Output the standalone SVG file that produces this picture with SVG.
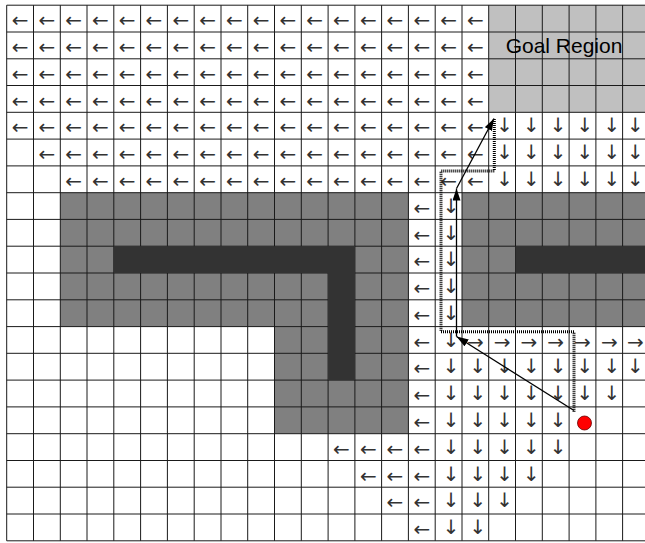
<svg xmlns="http://www.w3.org/2000/svg" width="645" height="543" viewBox="0 0 645 543">
<style>
.mid{fill:#808080}
.dark{fill:#333333}
.goal{fill:#c0c0c0}
.grid line{stroke:#1a1a1a;stroke-width:1}
.arr{font-family:"DejaVu Sans",sans-serif;font-size:20px;fill:#333;text-anchor:middle}
.lbl{font-family:"Liberation Sans",Arial,sans-serif;font-size:21px;fill:#000;text-anchor:middle}
.dotted{fill:none;stroke:#000;stroke-width:3;stroke-dasharray:1 1}
.solid{fill:none;stroke:#000;stroke-width:1.3}
</style>
<defs>
<marker id="ah" viewBox="0 0 12 8" refX="12" refY="4" markerWidth="12" markerHeight="8" markerUnits="userSpaceOnUse" orient="auto">
<path d="M0,0 L12,4 L0,8 Z" fill="#000"/>
</marker>
</defs>
<rect width="645" height="543" fill="#fff"/>
<g id="regions">
<rect id="goal-region" class="goal" x="488.7" y="5.2" width="160" height="107.1"/>
<rect class="mid" x="60.3" y="192.7" width="348.1" height="133.9"/>
<rect class="mid" x="274.5" y="326.6" width="133.9" height="107.1"/>
<rect class="mid" x="462" y="192.7" width="190" height="133.9"/>
</g>
<g id="grid" class="grid">
<line x1="6.7" y1="5.2" x2="6.7" y2="540.8"/>
<line x1="33.5" y1="5.2" x2="33.5" y2="540.8"/>
<line x1="60.3" y1="5.2" x2="60.3" y2="540.8"/>
<line x1="87" y1="5.2" x2="87" y2="540.8"/>
<line x1="113.8" y1="5.2" x2="113.8" y2="540.8"/>
<line x1="140.6" y1="5.2" x2="140.6" y2="540.8"/>
<line x1="167.4" y1="5.2" x2="167.4" y2="540.8"/>
<line x1="194.2" y1="5.2" x2="194.2" y2="540.8"/>
<line x1="221" y1="5.2" x2="221" y2="540.8"/>
<line x1="247.7" y1="5.2" x2="247.7" y2="540.8"/>
<line x1="274.5" y1="5.2" x2="274.5" y2="540.8"/>
<line x1="301.3" y1="5.2" x2="301.3" y2="540.8"/>
<line x1="328.1" y1="5.2" x2="328.1" y2="540.8"/>
<line x1="354.9" y1="5.2" x2="354.9" y2="540.8"/>
<line x1="381.6" y1="5.2" x2="381.6" y2="540.8"/>
<line x1="408.4" y1="5.2" x2="408.4" y2="540.8"/>
<line x1="435.2" y1="5.2" x2="435.2" y2="540.8"/>
<line x1="462" y1="5.2" x2="462" y2="540.8"/>
<line x1="488.7" y1="5.2" x2="488.7" y2="540.8"/>
<line x1="515.5" y1="5.2" x2="515.5" y2="540.8"/>
<line x1="542.3" y1="5.2" x2="542.3" y2="540.8"/>
<line x1="569.1" y1="5.2" x2="569.1" y2="540.8"/>
<line x1="595.9" y1="5.2" x2="595.9" y2="540.8"/>
<line x1="622.6" y1="5.2" x2="622.6" y2="540.8"/>
<line x1="6.7" y1="5.2" x2="645" y2="5.2"/>
<line x1="6.7" y1="32" x2="645" y2="32"/>
<line x1="6.7" y1="58.8" x2="645" y2="58.8"/>
<line x1="6.7" y1="85.5" x2="645" y2="85.5"/>
<line x1="6.7" y1="112.3" x2="645" y2="112.3"/>
<line x1="6.7" y1="139.1" x2="645" y2="139.1"/>
<line x1="6.7" y1="165.9" x2="645" y2="165.9"/>
<line x1="6.7" y1="192.7" x2="645" y2="192.7"/>
<line x1="6.7" y1="219.4" x2="645" y2="219.4"/>
<line x1="6.7" y1="246.2" x2="645" y2="246.2"/>
<line x1="6.7" y1="273" x2="645" y2="273"/>
<line x1="6.7" y1="299.8" x2="645" y2="299.8"/>
<line x1="6.7" y1="326.6" x2="645" y2="326.6"/>
<line x1="6.7" y1="353.3" x2="645" y2="353.3"/>
<line x1="6.7" y1="380.1" x2="645" y2="380.1"/>
<line x1="6.7" y1="406.9" x2="645" y2="406.9"/>
<line x1="6.7" y1="433.7" x2="645" y2="433.7"/>
<line x1="6.7" y1="460.5" x2="645" y2="460.5"/>
<line x1="6.7" y1="487.2" x2="645" y2="487.2"/>
<line x1="6.7" y1="514" x2="645" y2="514"/>
<line x1="6.7" y1="540.8" x2="645" y2="540.8"/>
</g>
<g id="obstacles">
<rect class="dark" x="113.8" y="246.2" width="241.1" height="26.8"/>
<rect class="dark" x="328.1" y="246.2" width="26.8" height="133.9"/>
<rect class="dark" x="515.5" y="246.2" width="140" height="26.8"/>
</g>
<g id="policy-arrows" class="arr">
<text x="20.1 46.9 73.7 100.4 127.2 154 180.8 207.6 234.4 261.1 287.9 314.7 341.5 368.3 395 421.8 448.6 475.4" y="27.3">←←←←←←←←←←←←←←←←←←</text>
<text x="20.1 46.9 73.7 100.4 127.2 154 180.8 207.6 234.4 261.1 287.9 314.7 341.5 368.3 395 421.8 448.6 475.4" y="54.1">←←←←←←←←←←←←←←←←←←</text>
<text x="20.1 46.9 73.7 100.4 127.2 154 180.8 207.6 234.4 261.1 287.9 314.7 341.5 368.3 395 421.8 448.6 475.4" y="80.9">←←←←←←←←←←←←←←←←←←</text>
<text x="20.1 46.9 73.7 100.4 127.2 154 180.8 207.6 234.4 261.1 287.9 314.7 341.5 368.3 395 421.8 448.6 475.4" y="107.6">←←←←←←←←←←←←←←←←←←</text>
<text x="20.1 46.9 73.7 100.4 127.2 154 180.8 207.6 234.4 261.1 287.9 314.7 341.5 368.3 395 421.8 448.6 475.4" y="134.4">←←←←←←←←←←←←←←←←←←</text>
<text x="46.9 73.7 100.4 127.2 154 180.8 207.6 234.4 261.1 287.9 314.7 341.5 368.3 395 421.8 448.6 475.4" y="161.2">←←←←←←←←←←←←←←←←←</text>
<text x="73.7 100.4 127.2 154 180.8 207.6 234.4 261.1 287.9 314.7 341.5 368.3 395 421.8 448.6 475.4" y="188">←←←←←←←←←←←←←←←←</text>
<text x="421.8" y="214.8">←</text>
<text x="421.8" y="241.5">←</text>
<text x="421.8" y="268.3">←</text>
<text x="421.8" y="295.1">←</text>
<text x="421.8" y="321.9">←</text>
<text x="421.8" y="348.7">←</text>
<text x="475.4 502.1 528.9 555.7 582.5 609.3 635.5" y="348.7">→→→→→→→</text>
<text x="421.8" y="375.4">←</text>
<text x="421.8" y="402.2">←</text>
<text x="421.8" y="429">←</text>
<text x="341.5 368.3 395 421.8" y="455.8">←←←←</text>
<text x="368.3 395 421.8" y="482.6">←←←</text>
<text x="395 421.8" y="509.3">←←</text>
<text x="421.8" y="536.1">←</text>
<text x="504.6 531.4 558.2 585 611.8 635.5" y="132.4">↓↓↓↓↓↓</text>
<text x="504.6 531.4 558.2 585 611.8 635.5" y="159.2">↓↓↓↓↓↓</text>
<text x="504.6 531.4 558.2 585 611.8 635.5" y="186">↓↓↓↓↓↓</text>
<text x="451.1" y="212.8">↓</text>
<text x="451.1" y="239.5">↓</text>
<text x="451.1" y="266.3">↓</text>
<text x="451.1" y="293.1">↓</text>
<text x="451.1" y="319.9">↓</text>
<text x="451.1" y="346.7">↓</text>
<text x="451.1 477.9 504.6 531.4 558.2 585 611.8 635.5" y="373.4">↓↓↓↓↓↓↓↓</text>
<text x="451.1 477.9 504.6 531.4 558.2 585 611.8" y="400.2">↓↓↓↓↓↓↓</text>
<text x="451.1 477.9 504.6 531.4 558.2" y="427">↓↓↓↓↓</text>
<text x="451.1 477.9 504.6 531.4 558.2" y="453.8">↓↓↓↓↓</text>
<text x="451.1 477.9 504.6 531.4" y="480.6">↓↓↓↓</text>
<text x="451.1 477.9 504.6" y="507.3">↓↓↓</text>
<text x="451.1 477.9" y="534.1">↓↓</text>
</g>
<g id="goal-label">
<text class="lbl" x="564" y="52.5">Goal Region</text>
</g>
<g id="connectors">
<polyline id="grid-path" class="dotted" points="574,411.7 574,331.7 441,331.7 441,171 494.3,171 494.3,118"/>
<line class="solid" x1="574" y1="410.5" x2="456.5" y2="336.5" marker-end="url(#ah)"/>
<line class="solid" x1="456.5" y1="336.5" x2="456.5" y2="188.5" marker-end="url(#ah)"/>
<line class="solid" x1="456.5" y1="188.5" x2="494" y2="118.5" marker-end="url(#ah)"/>
</g>
<g id="robot">
<circle cx="584.5" cy="423" r="7" fill="#ff0000" stroke="#600" stroke-width="0.8"/>
</g>
</svg>
